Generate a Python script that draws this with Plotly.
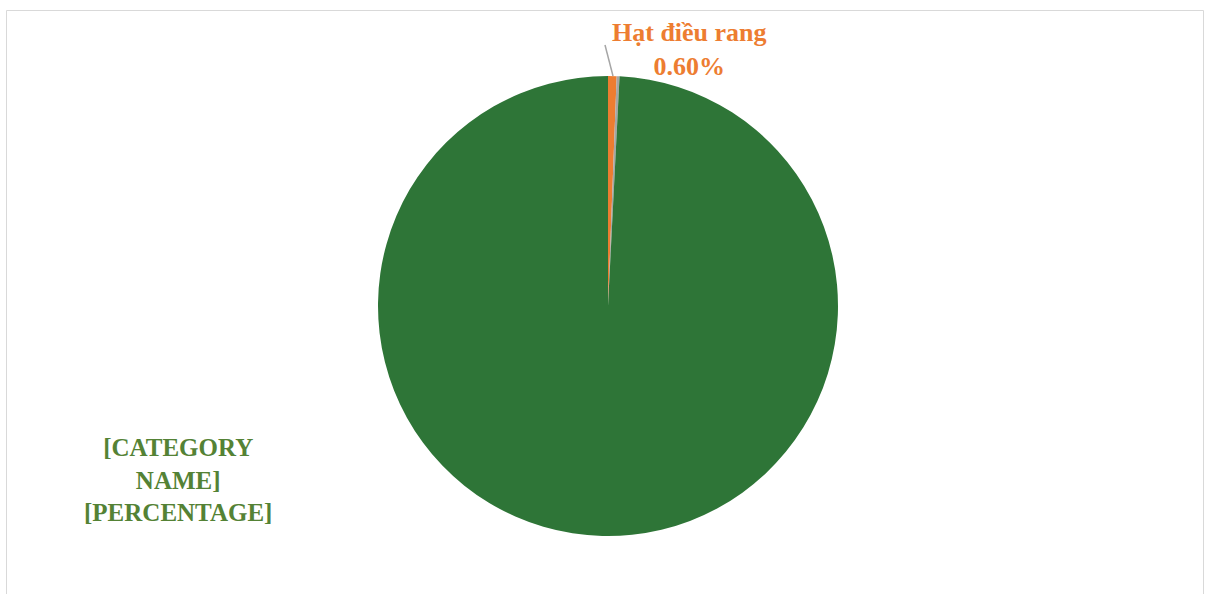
import plotly.graph_objects as go

# Slice data (share of total, %)
labels = ["Hạt điều rang", "Khác", "Hạt điều nhân"]
values = [0.60, 0.20, 99.20]
colors = ["#ED7D31", "#A5A5A5", "#2E7537"]
label_texts = ["Hạt điều rang<br>0.60%", "", "[CATEGORY<br>NAME]<br>[PERCENTAGE]"]
label_colors = ["#ED7D31", "#A5A5A5", "#548235"]

W, H = 1206, 594


def px(x):
    return x / W


def py(y):
    return 1 - y / H


fig = go.Figure()
fig.add_trace(go.Pie(
    labels=labels,
    values=values,
    sort=False,
    direction="clockwise",
    rotation=0,
    marker=dict(colors=colors, line=dict(width=0)),
    textinfo="none",
    hoverinfo="label+percent",
    showlegend=False,
    domain=dict(x=[px(378), px(838)], y=[py(536), py(76)]),
))

# Data labels
label_font = "Liberation Serif, Times New Roman, serif"
fig.add_annotation(x=px(690), y=py(50), xref="paper", yref="paper",
                   text="<b>" + label_texts[0] + "</b>", showarrow=False,
                   font=dict(family=label_font, size=26, color=label_colors[0]),
                   align="center", xanchor="center", yanchor="middle")
fig.add_annotation(x=px(178), y=py(480), xref="paper", yref="paper",
                   text="<b>" + label_texts[2] + "</b>", showarrow=False,
                   font=dict(family=label_font, size=25, color=label_colors[2]),
                   align="center", xanchor="center", yanchor="middle")

# Leader line for the small slice
fig.add_shape(type="line", xref="paper", yref="paper",
              x0=px(605), y0=py(45), x1=px(613), y1=py(76),
              line=dict(color="#A6A6A6", width=1.5))

# Chart area border
fig.add_shape(type="rect", xref="paper", yref="paper",
              x0=px(6.5), y0=py(600), x1=px(1203.5), y1=py(10.5),
              line=dict(color="#D9D9D9", width=1), fillcolor="rgba(0,0,0,0)")

fig.update_layout(
    width=W, height=H,
    margin=dict(l=0, r=0, t=0, b=0),
    paper_bgcolor="white",
    plot_bgcolor="white",
)

fig.write_html("out.html")
